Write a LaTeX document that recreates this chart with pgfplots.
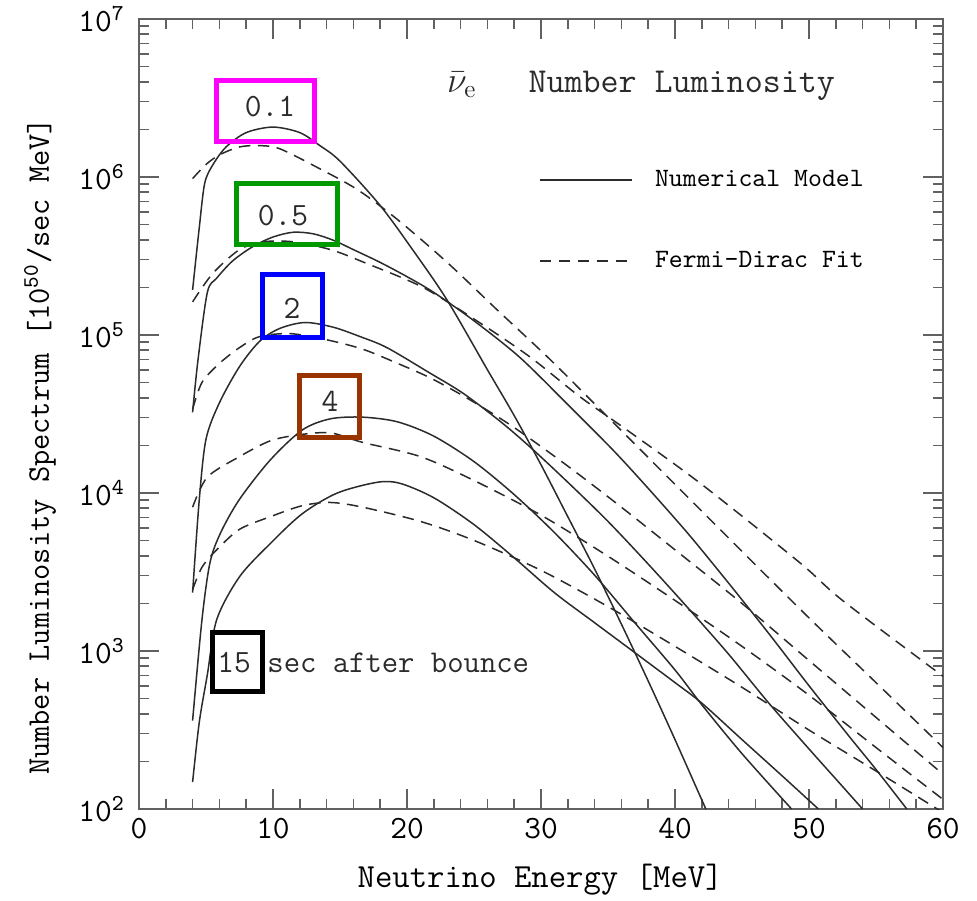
\documentclass[border=0pt]{standalone}
\usepackage{pgfplots}
\pgfplotsset{compat=1.18}

\definecolor{curve}{rgb}{0.17,0.17,0.17}
\definecolor{axisgray}{rgb}{0.38,0.38,0.38}
\definecolor{boxmagenta}{rgb}{1,0,1}
\definecolor{boxgreen}{rgb}{0,0.6,0}
\definecolor{boxblue}{rgb}{0,0,1}
\definecolor{boxbrown}{rgb}{0.6,0.2,0}

\newcommand{\labfont}{\fontsize{13}{15}\selectfont\ttfamily}

\begin{document}
\begin{tikzpicture}
\begin{axis}[
  at={(0,0)}, anchor=south west,
  scale only axis, width=321.6pt, height=316pt,
  xmin=0, xmax=60, ymin=100, ymax=1e7,
  ymode=log,
  xtick={0,10,...,60}, minor x tick num=4,
  ytick={1e2,1e3,1e4,1e5,1e6,1e7},
  yticklabels={10\textsuperscript{2},10\textsuperscript{3},10\textsuperscript{4},10\textsuperscript{5},10\textsuperscript{6},10\textsuperscript{7}},
  tick align=inside, xtick pos=both, ytick pos=both,
  major tick length=8pt, minor tick length=4pt,
  axis line style={draw=axisgray, line width=0.8pt},
  every tick/.style={axisgray, line width=0.7pt},
  tick label style={font=\labfont},
  /pgf/number format/assume math mode=true,
  yticklabel style={xshift=-2pt},
  xlabel={Neutrino Energy [MeV]},
  ylabel={Number Luminosity Spectrum [10\textsuperscript{50}/sec MeV]},
  every axis x label/.style={at={(axis description cs:0.499,-0.09)}, anchor=center, font=\fontsize{13.5}{15}\selectfont\ttfamily},
  every axis y label/.style={at={(axis description cs:-0.123,0.459)}, anchor=center, rotate=90, font=\fontsize{12.6}{15}\selectfont\ttfamily},
  legend style={draw=none, fill=none, at={(axis description cs:0.497,0.816)}, anchor=north west,
    font=\fontsize{10.6}{12}\selectfont\ttfamily, row sep=20.5pt, inner sep=0pt,
    /tikz/every odd column/.append style={column sep=7pt}},
  legend cell align=left,
  legend image code/.code={\draw[#1] (0pt,0pt) -- (36.8pt,0pt);},
  fit/.style={curve, line width=0.6pt, dash pattern=on 4.6pt off 3pt, smooth},
  model/.style={curve, line width=0.6pt, smooth},
]

\addlegendimage{curve, line width=0.6pt}
\addlegendentry{Numerical Model}
\addlegendimage{curve, line width=0.6pt, dash pattern=on 4.6pt off 3pt}
\addlegendentry{Fermi-Dirac Fit}

% numerical model spectra
% t = 0.1 s
\addplot[model, forget plot] coordinates {
(4,1.93e5) (4.5,4.8e5) (4.9,9.1e5) (5.5,1.19e6) (6.5,1.55e6) (8,1.91e6)
(10,2.07e6) (12,1.91e6) (13.5,1.58e6) (15,1.26e6) (18,6.6e5) (20.5,3.39e5)
(23,1.66e5) (26,6.03e4) (28,3.09e4) (30,1.51e4) (32,7.08e3) (34,3.31e3)
(36,1.48e3) (38,646) (40,275) (42.3,100)};
% t = 0.5 s
\addplot[model, forget plot] coordinates {
(4,3.24e4) (4.4,6.92e4) (5.1,1.86e5) (5.8,2.29e5) (7,2.95e5) (8.5,3.63e5)
(10,4.17e5) (11.5,4.47e5) (13,4.37e5) (14.5,3.98e5) (16,3.47e5) (18,2.88e5)
(20,2.34e5) (22,1.86e5) (25,1.23e5) (28.4,7.24e4) (32,3.63e4) (35.4,1.86e4)
(38,1.07e4) (41,5.50e3) (44,2.69e3) (47,1.29e3) (50,603) (53,288) (55,178) (57.3,100)};
% t = 2 s
\addplot[model, forget plot] coordinates {
(4,2.34e3) (4.5,9.12e3) (5,2.19e4) (6,3.72e4) (7.5,6.31e4) (9,9.12e4)
(10.5,1.10e5) (12.4,1.20e5) (14.5,1.12e5) (16.5,9.77e4) (18.5,8.32e4)
(21.7,5.75e4) (24.2,4.27e4) (27,2.82e4) (29.2,1.95e4) (32,1.17e4) (35,6.61e3)
(38,3.55e3) (41,1.86e3) (44,955) (47,468) (50,240) (52,155) (54,100)};
% t = 4 s
\addplot[model, forget plot] coordinates {
(4,363) (4.7,1.58e3) (5.3,3.63e3) (6.1,5.62e3) (7.5,9.12e3) (9.8,1.62e4)
(12.2,2.51e4) (14.3,2.95e4) (16.7,3.02e4) (19.3,2.82e4) (22,2.29e4)
(25,1.58e4) (28,9.77e3) (31,5.62e3) (34,3.02e3) (37,1.51e3) (40,759)
(42,457) (45,224) (48.7,100)};
% t = 15 s
\addplot[model, forget plot] coordinates {
(4,148) (4.5,355) (5.1,708) (5.8,1.58e3) (7.5,2.95e3) (9.8,4.79e3)
(12.2,7.41e3) (14.8,1.0e4) (17.8,1.17e4) (19.5,1.15e4) (22,9.33e3)
(25,6.31e3) (28,3.89e3) (31,2.34e3) (34,1.51e3) (37,977) (40,631)
(42,468) (45,275) (48,162) (50.7,100)};

% Fermi-Dirac fits
% t = 0.1 s
\addplot[fit, forget plot] coordinates {
(4,9.77e5) (5,1.20e6) (6,1.38e6) (7.5,1.55e6) (9,1.58e6) (10.5,1.51e6)
(13.3,1.15e6) (16.3,8.32e5) (19.3,5.37e5) (23,2.88e5) (26.7,1.45e5)
(30.5,7.24e4) (33.7,3.89e4) (37,2.04e4) (41,9.33e3) (45,4.27e3) (50,1.62e3)
(55,631) (60,245)};
% t = 0.5 s
\addplot[fit, forget plot] coordinates {
(4,1.62e5) (5.5,2.45e5) (7.5,3.47e5) (9.3,3.89e5) (11.5,3.89e5) (14.3,3.47e5)
(16.8,2.88e5) (21.2,2.0e5) (25.4,1.20e5) (29.2,7.24e4) (32.9,4.07e4)
(36.4,2.51e4) (41.9,1.15e4) (49.3,3.63e3) (52.5,2.09e3) (60,692)};
% t = 2 s
\addplot[fit, forget plot] coordinates {
(4,3.39e4) (4.7,5.01e4) (6,6.61e4) (7.5,8.32e4) (9,9.77e4) (11.3,1.02e5)
(14,9.33e4) (16.7,8.13e4) (19.3,6.61e4) (21.7,5.37e4) (24.5,3.98e4)
(27.9,2.63e4) (32,1.48e4) (36,8.13e3) (40,4.37e3) (45,2.0e3) (50,871)
(55,380) (60,166)};
% t = 4 s
\addplot[fit, forget plot] coordinates {
(4,8.13e3) (5.1,1.26e4) (7.5,1.70e4) (9.8,2.14e4) (12,2.34e4) (14.3,2.40e4)
(16.7,2.09e4) (21,1.70e4) (25,1.20e4) (30,7.24e3) (35,3.98e3) (40,2.09e3)
(45,1.07e3) (50,525) (55,245) (60,115)};
% t = 15 s
\addplot[fit, forget plot] coordinates {
(4,2.45e3) (4.7,3.39e3) (5.8,4.37e3) (7.5,5.89e3) (9.8,7.08e3) (12.2,8.32e3)
(14.3,8.71e3) (16.7,8.13e3) (21,6.61e3) (25,5.01e3) (30,3.24e3) (35,1.91e3)
(40,1.07e3) (45,589) (50,316) (55,174) (60,95)};

% time labels and their frames
\draw[boxmagenta, line width=2pt] (axis cs:5.82,1.667e6) rectangle (axis cs:13.13,4.11e6);
\draw[boxgreen, line width=2pt] (axis cs:7.31,3.715e5) rectangle (axis cs:14.78,9.16e5);
\draw[boxblue, line width=2pt] (axis cs:9.18,9.70e4) rectangle (axis cs:13.66,2.399e5);
\draw[boxbrown, line width=2pt] (axis cs:12.01,2.26e4) rectangle (axis cs:16.49,5.51e4);
\draw[black, line width=2pt] (axis cs:5.45,551) rectangle (axis cs:9.18,1318);

\node[anchor=base, font=\labfont, text=curve] at (axis cs:9.78,2.40e6) {0.1};
\node[anchor=base, font=\labfont, text=curve] at (axis cs:10.75,4.90e5) {0.5};
\node[anchor=base, font=\labfont, text=curve] at (axis cs:11.42,1.28e5) {2};
\node[anchor=base, font=\labfont, text=curve] at (axis cs:14.25,3.26e4) {4};
\node[anchor=base, font=\labfont, text=curve] at (axis cs:7.09,736) {15};
\node[anchor=base west, font=\fontsize{12.7}{15}\selectfont\ttfamily, text=curve, inner sep=0pt] at (axis cs:9.55,736) {sec after bounce};

% panel title
\node[anchor=base west, inner sep=0pt, font=\fontsize{14}{15}\selectfont, text=curve] at (axis cs:22.95,3.45e6) {$\bar{\nu}_{\mathrm{e}}$};
\node[anchor=base west, inner sep=0pt, font=\fontsize{14}{15}\selectfont\ttfamily, text=curve] at (axis cs:29.03,3.45e6) {Number Luminosity};
\end{axis}
\pgfresetboundingbox
\useasboundingbox (-55.6pt,-36.4pt) rectangle (335.2pt,323.6pt);
\end{tikzpicture}
\end{document}
